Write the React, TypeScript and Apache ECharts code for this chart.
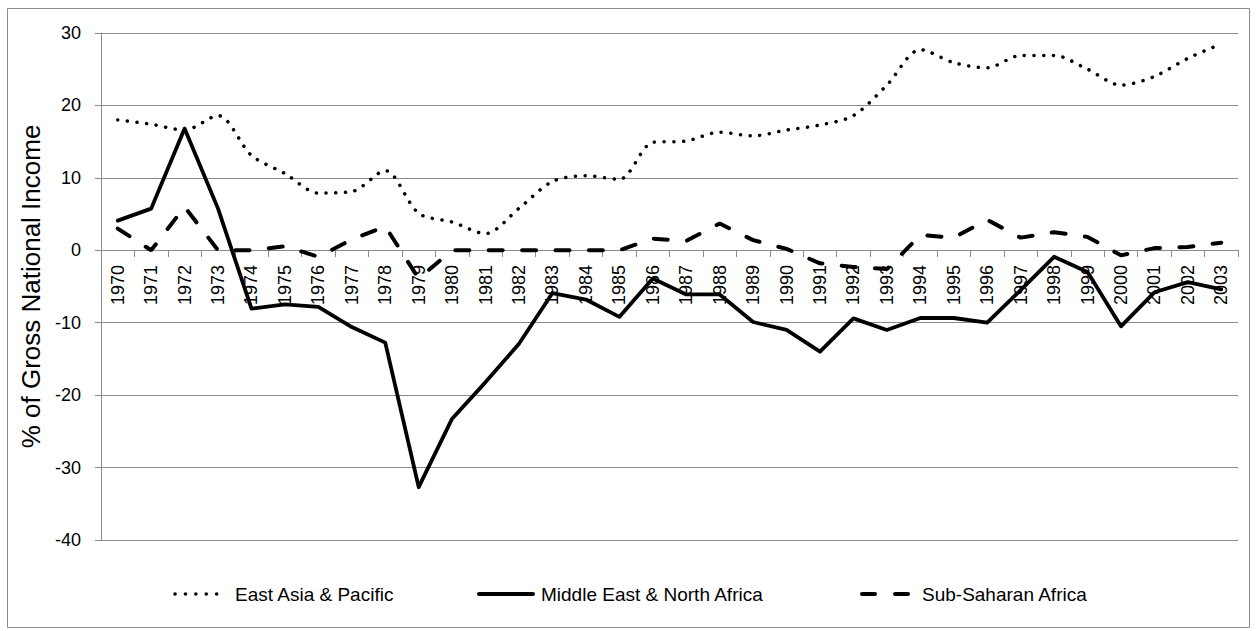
import React, { useEffect, useRef } from "react";
import * as echarts from "echarts";

const years = [
  "1970", "1971", "1972", "1973", "1974", "1975", "1976", "1977", "1978", "1979",
  "1980", "1981", "1982", "1983", "1984", "1985", "1986", "1987", "1988", "1989",
  "1990", "1991", "1992", "1993", "1994", "1995", "1996", "1997", "1998", "1999",
  "2000", "2001", "2002", "2003",
];

const eastAsiaPacific = [
  18.0, 17.4, 16.6, 18.6, 13.1, 10.6, 7.9, 8.1, 11.0, 5.1, 3.9, 2.3,
  5.8, 9.5, 10.3, 9.8, 14.9, 15.1, 16.3, 15.8, 16.6, 17.3, 18.6,
  22.8, 27.7, 25.9, 25.2, 26.9, 26.9, 25.0, 22.8, 24.0, 26.5, 28.5,
];

const middleEastNorthAfrica = [
  4.1, 5.75, 16.8, 5.75, -8.06, -7.46, -7.8, -10.6, -12.75, -32.7, -23.25, -18.2,
  -12.9, -5.9, -6.8, -9.2, -3.9, -6.1, -6.1, -9.9, -11.0, -14.0, -9.4,
  -11.0, -9.35, -9.35, -10.0, -5.5, -0.9, -3.0, -10.5, -5.8, -4.4, -5.4,
];

const subSaharanAfrica = [
  3.0, 0, 6.0, 0, 0, 0.55, -0.9, 1.5, 3.3, -3.9, 0, 0,
  0, 0, 0, 0, 1.6, 1.3, 3.7, 1.4, 0.2, -1.8, -2.3,
  -2.6, 2.1, 1.75, 4.2, 1.75, 2.5, 1.85, -0.7, 0.3, 0.45, 1.05,
];

const seriesNames = [
  "East Asia & Pacific",
  "Middle East & North Africa",
  "Sub-Saharan Africa",
];

const yAxisTitle = "% of Gross National Income";

const FONT = "'Liberation Sans', Arial, sans-serif";
const GRAY = "#8a8a8a";

const dotted = { width: 3.5, dash: [0.1, 9.6] };
const solid = { width: 3.8 };
const dashed = { width: 4, dash: [14, 19.4] };

export default function App() {
  const ref = useRef<HTMLDivElement>(null);

  useEffect(() => {
    document.body.style.margin = "0";
    if (!ref.current) return;
    const chart = echarts.init(ref.current, undefined, { renderer: "svg" });

    const legendY = 594;
    const legendText = (x: number, text: string) => ({
      type: "text",
      x,
      y: legendY,
      silent: true,
      style: {
        text,
        fill: "#000",
        font: `19px ${FONT}`,
        verticalAlign: "middle",
        align: "left",
      },
    });
    const legendLine = (x1: number, x2: number, width: number, dash?: number[]) => ({
      type: "line",
      silent: true,
      shape: { x1, y1: legendY, x2, y2: legendY },
      style: {
        stroke: "#000",
        lineWidth: width,
        lineCap: "round",
        lineDash: dash ?? null,
      },
    });

    chart.setOption({
      animation: false,
      backgroundColor: "#fff",
      textStyle: { fontFamily: FONT },
      grid: { left: 101, right: 19, top: 33, bottom: 91, containLabel: false },
      legend: { show: false },
      graphic: [
        {
          type: "rect",
          silent: true,
          shape: { x: 7.5, y: 8.5, width: 1242, height: 619 },
          style: { fill: "none", stroke: GRAY, lineWidth: 1 },
        },
        legendLine(175, 227, dotted.width, [0.1, 10.3]),
        legendText(235, seriesNames[0]),
        legendLine(479, 533, 4),
        legendText(541, seriesNames[1]),
        legendLine(862, 908, 4, [13, 20]),
        legendText(922, seriesNames[2]),
      ],
      xAxis: {
        type: "category",
        data: years,
        boundaryGap: true,
        offset: -290,
        axisLine: { onZero: false, lineStyle: { color: GRAY, width: 1 } },
        axisTick: { show: true, length: 7, lineStyle: { color: GRAY } },
        axisLabel: {
          interval: 0,
          rotate: 90,
          margin: 15,
          fontFamily: FONT,
          fontSize: 18,
          color: "#000",
        },
        splitLine: { show: false },
      },
      yAxis: {
        type: "value",
        min: -40,
        max: 30,
        interval: 10,
        name: yAxisTitle,
        nameLocation: "middle",
        nameGap: 55,
        nameTextStyle: { fontFamily: FONT, fontSize: 26, color: "#000" },
        axisLine: { show: true, onZero: false, lineStyle: { color: GRAY, width: 1 } },
        axisTick: { show: true, length: 6, lineStyle: { color: GRAY } },
        axisLabel: { margin: 20, fontFamily: FONT, fontSize: 18, color: "#000" },
        splitLine: { show: true, lineStyle: { color: GRAY, width: 1 } },
      },
      series: [
        {
          name: seriesNames[0],
          type: "line",
          data: eastAsiaPacific,
          symbol: "none",
          smooth: 0.3,
          z: 3,
          lineStyle: { color: "#000", width: dotted.width, type: dotted.dash, cap: "round" },
        },
        {
          name: seriesNames[1],
          type: "line",
          data: middleEastNorthAfrica,
          symbol: "none",
          z: 3,
          lineStyle: { color: "#000", width: solid.width, cap: "round", join: "round" },
        },
        {
          name: seriesNames[2],
          type: "line",
          data: subSaharanAfrica,
          symbol: "none",
          z: 3,
          lineStyle: { color: "#000", width: dashed.width, type: dashed.dash, cap: "round" },
        },
      ],
    });

    return () => chart.dispose();
  }, []);

  return <div ref={ref} style={{ width: 1257, height: 631 }} />;
}
